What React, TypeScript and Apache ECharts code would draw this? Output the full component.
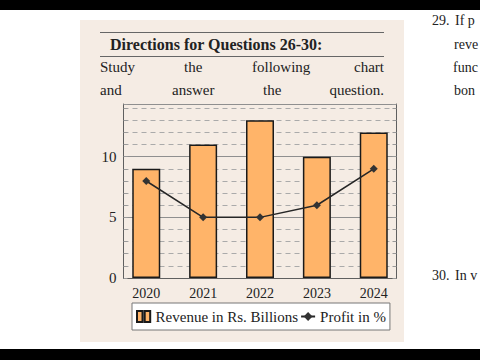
import React, { useEffect, useRef } from 'react';
import * as echarts from 'echarts';

const years = [2020, 2021, 2022, 2023, 2024];
const revenue = [9, 11, 13, 10, 12];
const profit = [8, 5, 5, 6, 9];
const yLabels = [0, 5, 10];
const seriesNames = ['Revenue in Rs. Billions', 'Profit in %'];

export default function App() {
  const ref = useRef<HTMLDivElement>(null);
  useEffect(() => {
    const chart = echarts.init(ref.current!, null, { renderer: 'svg' });
    const serif = 'Liberation Serif';
    const txt = (text: string, x: number, y: number, extra: any = {}) => ({
      type: 'text',
      x,
      y,
      z: 10,
      style: {
        text,
        fontFamily: serif,
        fontSize: 15,
        fill: '#222',
        textVerticalAlign: 'middle',
        verticalAlign: 'middle',
        ...extra,
      },
    });
    const yMax = 14.35;
    chart.setOption({
      animation: false,
      backgroundColor: '#ffffff',
      grid: { left: 123.5, top: 104, width: 273, height: 174, containLabel: false },
      graphic: [
        { type: 'rect', z: -10, shape: { x: 80, y: 20, width: 324, height: 322 }, style: { fill: '#f5ece4' } },
        { type: 'rect', z: 20, shape: { x: 0, y: 0, width: 480, height: 10 }, style: { fill: '#000' } },
        { type: 'rect', z: 20, shape: { x: 0, y: 349, width: 480, height: 11 }, style: { fill: '#000' } },
        { type: 'line', z: 10, shape: { x1: 100, y1: 32.5, x2: 384, y2: 32.5 }, style: { stroke: '#666', lineWidth: 1 } },
        { type: 'line', z: 10, shape: { x1: 100, y1: 56.5, x2: 384, y2: 56.5 }, style: { stroke: '#666', lineWidth: 1 } },
        txt('Directions for Questions 26-30:', 110, 44, { fontWeight: 'bold', fontSize: 16 }),
        txt('Study', 100, 67),
        txt('the', 184, 67),
        txt('following', 252, 67),
        txt('chart', 384, 67, { textAlign: 'right', align: 'right' }),
        txt('and', 100, 90),
        txt('answer', 172, 90),
        txt('the', 263, 90),
        txt('question.', 384, 90, { textAlign: 'right', align: 'right' }),
        txt('29.', 432, 20, { fontSize: 14 }),
        txt('If p', 455, 20, { fontSize: 14 }),
        txt('reve', 454, 44, { fontSize: 14 }),
        txt('func', 453, 67, { fontSize: 14 }),
        txt('bon', 454, 90, { fontSize: 14 }),
        txt('30.', 432, 275, { fontSize: 14 }),
        txt('In v', 455, 275, { fontSize: 14 }),
      ],
      legend: {
        left: 132,
        top: 303,
        orient: 'horizontal',
        backgroundColor: '#ffffff',
        borderColor: '#777',
        borderWidth: 1,
        borderRadius: 0,
        padding: [6, 4, 6, 4],
        itemGap: 2,
        itemWidth: 14,
        itemHeight: 11,
        textStyle: { fontFamily: serif, fontSize: 15, color: '#222' },
        data: [
          { name: seriesNames[0], icon: 'path://M0,0H5V10H0Z M7,0H12V10H7Z' },
          { name: seriesNames[1] },
        ],
      },
      xAxis: [
        {
          type: 'value',
          min: 2019.6,
          max: 2024.4,
          position: 'bottom',
          axisLine: { show: true, lineStyle: { color: '#5f5f5f', width: 1 } },
          axisTick: { show: true, inside: true, length: 4, customValues: years, lineStyle: { color: '#999' } },
          axisLabel: {
            customValues: years,
            formatter: (v: number) => String(v),
            fontFamily: serif,
            fontSize: 14,
            color: '#222',
            margin: 8,
          },
          splitLine: { show: false },
        },
        {
          type: 'value',
          min: 2019.6,
          max: 2024.4,
          position: 'top',
          axisLine: { show: true, lineStyle: { color: '#5f5f5f', width: 1 } },
          axisTick: { show: true, inside: false, length: 6, customValues: years, lineStyle: { color: '#bbb' } },
          axisLabel: { show: false },
          splitLine: { show: false },
        },
      ],
      yAxis: [
        {
          type: 'value',
          min: 0,
          max: yMax,
          interval: 1,
          position: 'left',
          axisLine: { show: true, lineStyle: { color: '#5f5f5f', width: 1 } },
          axisTick: { show: true, inside: true, length: 4, lineStyle: { color: '#999' } },
          axisLabel: { customValues: yLabels, fontFamily: serif, fontSize: 15, color: '#222', margin: 7 },
          splitLine: { show: true, lineStyle: { type: [5, 4], color: '#aaaaaa', width: 1 } },
        },
        {
          type: 'value',
          min: 0,
          max: yMax,
          interval: 1,
          position: 'right',
          axisLine: { show: true, lineStyle: { color: '#5f5f5f', width: 1 } },
          axisTick: { show: true, inside: true, length: 4, lineStyle: { color: '#999' } },
          axisLabel: { show: false },
          splitLine: { show: false },
        },
        {
          type: 'value',
          min: 0,
          max: yMax,
          interval: 5,
          position: 'left',
          axisLine: { show: false },
          axisTick: { show: false },
          axisLabel: { show: false },
          splitLine: { show: true, lineStyle: { color: '#8f8f8f', width: 1 } },
        },
      ],
      series: [
        {
          name: seriesNames[0],
          type: 'bar',
          xAxisIndex: 0,
          yAxisIndex: 0,
          barWidth: 28,
          data: years.map((y, i) => [y, revenue[i]]),
          itemStyle: { color: '#ffb469', borderColor: '#1a1a1a', borderWidth: 1.5 },
          z: 3,
        },
        {
          name: seriesNames[1],
          type: 'line',
          xAxisIndex: 0,
          yAxisIndex: 0,
          data: years.map((y, i) => [y, profit[i]]),
          symbol: 'diamond',
          symbolSize: 8,
          lineStyle: { color: '#262626', width: 1.5 },
          itemStyle: { color: '#333' },
          z: 4,
        },
      ],
    });
    return () => chart.dispose();
  }, []);
  return (
    <div
      ref={ref}
      style={{ position: 'fixed', left: 0, top: 0, width: 480, height: 360, background: '#fff' }}
    />
  );
}
